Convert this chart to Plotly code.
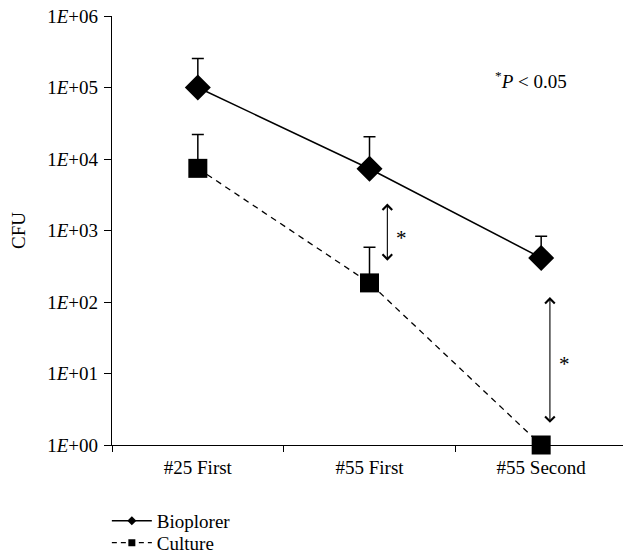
import math
import plotly.graph_objects as go

categories = ["#25 First", "#55 First", "#55 Second"]
bioplorer = [1.0e5, 7.3e3, 414]
bioplorer_upper = [2.54e5, 2.05e4, 832]
culture = [7.4e3, 185, 1]
culture_upper = [2.2e4, 585, 1]

y_tick_vals = [1, 10, 100, 1e3, 1e4, 1e5, 1e6]
y_tick_text = ["1<i>E</i>+00", "1<i>E</i>+01", "1<i>E</i>+02", "1<i>E</i>+03",
               "1<i>E</i>+04", "1<i>E</i>+05", "1<i>E</i>+06"]

# significance arrows: (category index offset, top CFU, bottom CFU, star CFU)
sig_arrows = [
    (1.104, 2380, 360, 790),
    (2.051, 117, 1.95, 13.4),
]

FONT = "Liberation Serif, Times New Roman, serif"

fig = go.Figure()

fig.add_trace(go.Scatter(
    x=categories, y=bioplorer, mode="lines+markers", name="Bioplorer",
    showlegend=False, cliponaxis=False,
    line=dict(color="black", width=1.5),
    marker=dict(symbol="diamond", size=20, color="black"),
    error_y=dict(type="data", symmetric=False,
                 array=[u - v for u, v in zip(bioplorer_upper, bioplorer)],
                 arrayminus=[0] * 3, color="black", thickness=1.5, width=6),
))
fig.add_trace(go.Scatter(
    x=categories, y=culture, mode="lines+markers", name="Culture",
    showlegend=False, cliponaxis=False,
    line=dict(color="black", width=1.3, dash="6px,5px"),
    marker=dict(symbol="square", size=19, color="black"),
    error_y=dict(type="data", symmetric=False,
                 array=[u - v for u, v in zip(culture_upper, culture)],
                 arrayminus=[0] * 3, color="black", thickness=1.5, width=6),
))

# legend entries with small markers (separate legends for exact spacing)
fig.add_trace(go.Scatter(x=[None], y=[None], mode="lines+markers", name="Bioplorer",
                         legend="legend",
                         line=dict(color="black", width=1.5),
                         marker=dict(symbol="diamond", size=7, color="black")))
fig.add_trace(go.Scatter(x=[None], y=[None], mode="lines+markers", name="Culture",
                         legend="legend2",
                         line=dict(color="black", width=1.3, dash="5px,4px"),
                         marker=dict(symbol="square", size=7, color="black")))

for xpos, top, bottom, star in sig_arrows:
    fig.add_annotation(x=xpos, y=math.log10(top), ax=xpos, ay=math.log10(bottom),
                       xref="x", yref="y", axref="x", ayref="y",
                       showarrow=True, arrowhead=4, startarrowhead=4,
                       arrowside="end+start", arrowwidth=1.1, arrowsize=1.7,
                       startarrowsize=1.7, arrowcolor="black", text="")
    fig.add_annotation(x=xpos + 0.082, y=math.log10(star), xref="x", yref="y",
                       text="*", showarrow=False,
                       font=dict(family=FONT, size=21, color="black"))

fig.add_annotation(x=0.74, y=0.85, xref="paper", yref="paper", showarrow=False,
                   xanchor="left", yanchor="middle",
                   text="<sup>*</sup><i>P</i> &lt; 0.05",
                   font=dict(family=FONT, size=19, color="black"))

legend_style = dict(xanchor="left", yanchor="middle",
                    font=dict(family=FONT, size=19), tracegroupgap=0,
                    itemwidth=40, bgcolor="rgba(0,0,0,0)")

fig.update_layout(
    width=623, height=550,
    margin=dict(l=104, r=4, t=8, b=113, autoexpand=False),
    paper_bgcolor="white", plot_bgcolor="white",
    font=dict(family=FONT, size=18, color="black"),
    showlegend=True,
    legend=dict(x=-0.01, y=-0.177, **legend_style),
    legend2=dict(x=-0.01, y=-0.228, **legend_style),
    xaxis=dict(type="category", range=[-0.5, 2.5], showline=True,
               linecolor="black", linewidth=1.3, ticks="outside",
               tickson="boundaries", ticklen=6, tickcolor="black",
               tickwidth=1.2, showgrid=False, zeroline=False, automargin=False,
               ticklabelstandoff=5,
               tickfont=dict(family=FONT, size=19)),
    yaxis=dict(type="log", range=[0, 6], showline=True, linecolor="black",
               linewidth=1.3, ticks="outside", ticklen=7, tickcolor="black",
               tickwidth=1.2, tickvals=y_tick_vals, ticktext=y_tick_text,
               showgrid=False, zeroline=False, automargin=False,
               ticklabeloverflow="allow", ticklabelstandoff=2,
               tickfont=dict(family=FONT, size=19),
               title=dict(text="CFU", standoff=18,
                          font=dict(family=FONT, size=19))),
)

fig.write_html("out.html")
